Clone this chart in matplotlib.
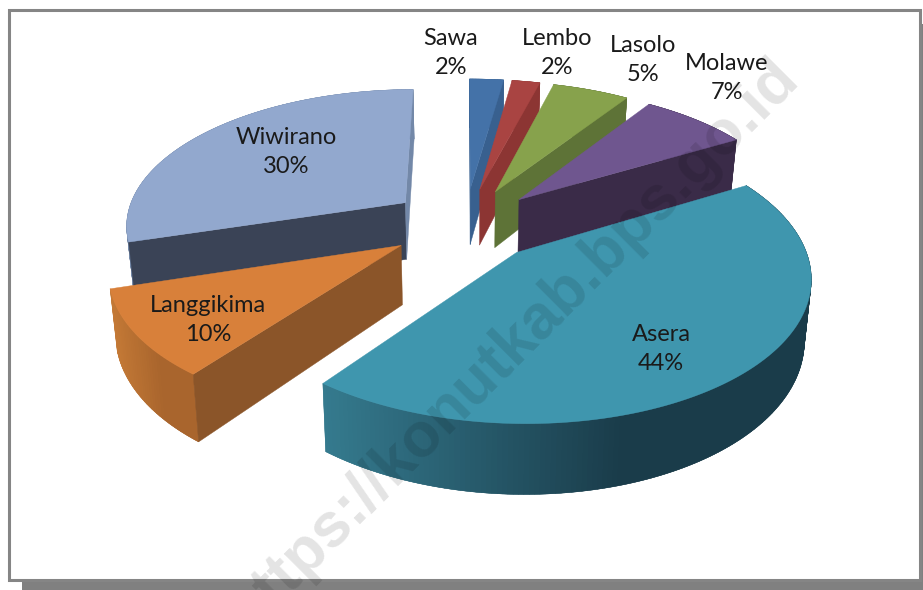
import numpy as np
import matplotlib
matplotlib.use("Agg")
import matplotlib.pyplot as plt
from matplotlib.colors import to_rgb
from matplotlib.patches import Rectangle

names = ["Sawa", "Lembo", "Lasolo", "Molawe", "Asera", "Langgikima", "Wiwirano"]
# the labels round them
values = [2.3, 1.9, 5.2, 7.3, 43.7, 9.9, 29.7]
top_colors = ["#4472A8", "#A94442", "#87A24C", "#6F568F", "#3F96AE", "#D8803A", "#92A8CE"]
wall_colors = ["#38608F", "#8C3533", "#5E7337", "#3A2B48", "#2F6E82", "#8B5529", "#3A4356"]
rim_left = ["#38608F", "#8C3533", "#5E7337", "#3A2B48", "#357B8F", "#C57A36", "#7388A8"]
rim_right = ["#38608F", "#8C3533", "#5E7337", "#3A2B48", "#1A3C4A", "#A9652D", "#7388A8"]
label_pos = [(451, 53), (557, 53), (643, 60), (727, 78), (661, 349), (208, 320), (286, 152)]
draw_order = [0, 1, 2, 3, 6, 5, 4]

# perspective of the pie, everything in pixels
cx, cy = 465, 224
rx, ry = 281, 136
persp = 0.15
explode = 0.27
depth = 58


def project(x, y, low=False):
    w = 1 + persp * y
    sx = cx + rx * x / w
    sy = cy - ry * y / w
    if low:
        sx = cx + (sx - cx) * 0.98
        sy = sy + depth / w
    return sx, sy


def quad(ax, xs, ys, color, z):
    ax.fill(xs, ys, color=color, lw=0.3, zorder=z)


fig = plt.figure(figsize=(9.23, 5.9), dpi=100)
ax = fig.add_axes([0, 0, 1, 1])
ax.set_xlim(0, 923)
ax.set_ylim(590, 0)
ax.axis("off")

# shadow and frame
ax.add_patch(Rectangle((22, 24), 901, 566, color="#808080", lw=0, zorder=0))
ax.add_patch(Rectangle((8.5, 9.5), 911.5, 570.5, fc="white", ec="#858585", lw=2.2, zorder=1))

total = sum(values)
cum = np.cumsum([0] + values) / total * 2 * np.pi

for i in draw_order:
    z = 2 + draw_order.index(i)
    a0, a1 = cum[i], cum[i + 1]
    mid = (a0 + a1) / 2
    ox, oy = explode * np.sin(mid), explode * np.cos(mid)
    t = np.linspace(a0, a1, max(int(values[i] * 4), 12))
    x = ox + np.sin(t)
    y = oy + np.cos(t)
    tx, ty = project(x, y)
    lx, ly = project(x, y, True)

    # outer rim in overlapping strips for the shading
    c0 = np.array(to_rgb(rim_left[i]))
    c1 = np.array(to_rgb(rim_right[i]))
    idx = np.argsort(tx)
    for j in idx:
        k = min(j + 1, len(t) - 1)
        m = max(j - 1, 0)
        f = min((tx[j] - tx.min()) / (0.62 * (tx.max() - tx.min())), 1)
        quad(ax, [tx[m], tx[k], lx[k], lx[m]], [ty[m], ty[k], ly[k], ly[m]],
             tuple(c0 + (c1 - c0) * f), z)

    # cut faces, only those turned to the viewer
    ax0, ay0 = project(ox, oy)
    bx0, by0 = project(ox, oy, True)
    eye = np.array([-ox, -1 / persp - oy])
    n0 = np.array([-np.cos(a0), np.sin(a0)])
    n1 = np.array([np.cos(a1), -np.sin(a1)])
    if n0 @ eye > 0:
        quad(ax, [ax0, tx[0], lx[0], bx0], [ay0, ty[0], ly[0], by0], wall_colors[i], z)
    if n1 @ eye > 0:
        quad(ax, [ax0, tx[-1], lx[-1], bx0], [ay0, ty[-1], ly[-1], by0], rim_right[i], z)

    quad(ax, np.r_[ax0, tx], np.r_[ay0, ty], top_colors[i], z)

for i, name in enumerate(names):
    ax.text(label_pos[i][0], label_pos[i][1], f"{name}\n{round(values[i])}%", family="Lato",
            fontsize=17, ha="center", va="center", color="#1a1a1a",
            linespacing=1.5, zorder=20)

# the reference watermark also runs off the bottom edge
ax.text(512, 345, "https://konutkab.bps.go.id", family="Liberation Sans", weight="bold",
        fontsize=45, rotation=45, rotation_mode="anchor", ha="center", va="center",
        color="black", alpha=0.11, zorder=30, clip_on=True)

fig.savefig("out.png", dpi=100)
